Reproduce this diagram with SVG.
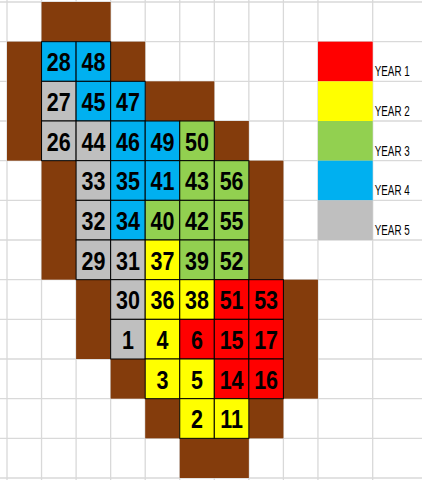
<svg xmlns="http://www.w3.org/2000/svg" width="422" height="480" viewBox="0 0 422 480">
<style>
.grid line{stroke:#d9d9d9;stroke-width:1.3}
.br{fill:#843C0C}
.c rect{stroke:#000;stroke-width:1}
.blue{fill:#00B0F0}.gray{fill:#BFBFBF}.green{fill:#92D050}.yellow{fill:#FFFF00}.red{fill:#FF0000}
.lg{stroke:none}
.n{font-family:"Liberation Sans",Arial,sans-serif;font-weight:bold;font-size:21.5px;text-anchor:middle;fill:#000}
.t{font-family:"Liberation Sans",Arial,sans-serif;font-size:12.5px;fill:#000}
</style>
<rect width="422" height="480" fill="#fff"/>
<g class="grid">
<line x1="7" y1="0" x2="7" y2="480"/><line x1="41.55" y1="0" x2="41.55" y2="480"/><line x1="76.1" y1="0" x2="76.1" y2="480"/><line x1="110.65" y1="0" x2="110.65" y2="480"/><line x1="145.2" y1="0" x2="145.2" y2="480"/><line x1="179.75" y1="0" x2="179.75" y2="480"/><line x1="214.3" y1="0" x2="214.3" y2="480"/><line x1="248.85" y1="0" x2="248.85" y2="480"/><line x1="283.4" y1="0" x2="283.4" y2="480"/><line x1="317.95" y1="0" x2="317.95" y2="480"/><line x1="372.7" y1="0" x2="372.7" y2="480"/>
<line x1="0" y1="2" x2="422" y2="2"/><line x1="0" y1="41.67" x2="422" y2="41.67"/><line x1="0" y1="81.33" x2="422" y2="81.33"/><line x1="0" y1="121" x2="422" y2="121"/><line x1="0" y1="160.67" x2="422" y2="160.67"/><line x1="0" y1="200.33" x2="422" y2="200.33"/><line x1="0" y1="240" x2="422" y2="240"/><line x1="0" y1="279.67" x2="422" y2="279.67"/><line x1="0" y1="319.33" x2="422" y2="319.33"/><line x1="0" y1="359" x2="422" y2="359"/><line x1="0" y1="398.67" x2="422" y2="398.67"/><line x1="0" y1="438.33" x2="422" y2="438.33"/><line x1="0" y1="478" x2="422" y2="478"/>
</g>
<g id="border">
<rect class="br" x="41.55" y="2" width="69.1" height="39.67"/>
<rect class="br" x="7" y="41.67" width="34.55" height="119"/>
<rect class="br" x="110.65" y="41.67" width="34.55" height="39.67"/>
<rect class="br" x="145.2" y="81.33" width="69.1" height="39.67"/>
<rect class="br" x="214.3" y="121" width="34.55" height="39.67"/>
<rect class="br" x="41.55" y="160.67" width="34.55" height="119"/>
<rect class="br" x="248.85" y="160.67" width="34.55" height="119"/>
<rect class="br" x="76.1" y="279.67" width="34.55" height="79.33"/>
<rect class="br" x="283.4" y="279.67" width="34.55" height="119"/>
<rect class="br" x="110.65" y="359" width="34.55" height="39.67"/>
<rect class="br" x="145.2" y="398.67" width="34.55" height="39.67"/>
<rect class="br" x="248.85" y="398.67" width="34.55" height="39.67"/>
<rect class="br" x="179.75" y="438.33" width="69.1" height="39.67"/>
</g>
<g id="cells" class="c">
<g id="n28"><rect class="blue" x="41.55" y="41.67" width="34.55" height="39.67"/><text class="n" transform="translate(58.8 71.2) scale(1 1.18)">28</text></g>
<g id="n48"><rect class="blue" x="76.1" y="41.67" width="34.55" height="39.67"/><text class="n" transform="translate(93.4 71.2) scale(1 1.18)">48</text></g>
<g id="n27"><rect class="gray" x="41.55" y="81.33" width="34.55" height="39.67"/><text class="n" transform="translate(58.8 110.8) scale(1 1.18)">27</text></g>
<g id="n45"><rect class="blue" x="76.1" y="81.33" width="34.55" height="39.67"/><text class="n" transform="translate(93.4 110.8) scale(1 1.18)">45</text></g>
<g id="n47"><rect class="blue" x="110.65" y="81.33" width="34.55" height="39.67"/><text class="n" transform="translate(127.9 110.8) scale(1 1.18)">47</text></g>
<g id="n26"><rect class="gray" x="41.55" y="121" width="34.55" height="39.67"/><text class="n" transform="translate(58.8 150.5) scale(1 1.18)">26</text></g>
<g id="n44"><rect class="gray" x="76.1" y="121" width="34.55" height="39.67"/><text class="n" transform="translate(93.4 150.5) scale(1 1.18)">44</text></g>
<g id="n46"><rect class="blue" x="110.65" y="121" width="34.55" height="39.67"/><text class="n" transform="translate(127.9 150.5) scale(1 1.18)">46</text></g>
<g id="n49"><rect class="blue" x="145.2" y="121" width="34.55" height="39.67"/><text class="n" transform="translate(162.5 150.5) scale(1 1.18)">49</text></g>
<g id="n50"><rect class="green" x="179.75" y="121" width="34.55" height="39.67"/><text class="n" transform="translate(197 150.5) scale(1 1.18)">50</text></g>
<g id="n33"><rect class="gray" x="76.1" y="160.67" width="34.55" height="39.67"/><text class="n" transform="translate(93.4 190.2) scale(1 1.18)">33</text></g>
<g id="n35"><rect class="blue" x="110.65" y="160.67" width="34.55" height="39.67"/><text class="n" transform="translate(127.9 190.2) scale(1 1.18)">35</text></g>
<g id="n41"><rect class="blue" x="145.2" y="160.67" width="34.55" height="39.67"/><text class="n" transform="translate(162.5 190.2) scale(1 1.18)">41</text></g>
<g id="n43"><rect class="green" x="179.75" y="160.67" width="34.55" height="39.67"/><text class="n" transform="translate(197 190.2) scale(1 1.18)">43</text></g>
<g id="n56"><rect class="green" x="214.3" y="160.67" width="34.55" height="39.67"/><text class="n" transform="translate(231.6 190.2) scale(1 1.18)">56</text></g>
<g id="n32"><rect class="gray" x="76.1" y="200.33" width="34.55" height="39.67"/><text class="n" transform="translate(93.4 229.8) scale(1 1.18)">32</text></g>
<g id="n34"><rect class="blue" x="110.65" y="200.33" width="34.55" height="39.67"/><text class="n" transform="translate(127.9 229.8) scale(1 1.18)">34</text></g>
<g id="n40"><rect class="green" x="145.2" y="200.33" width="34.55" height="39.67"/><text class="n" transform="translate(162.5 229.8) scale(1 1.18)">40</text></g>
<g id="n42"><rect class="green" x="179.75" y="200.33" width="34.55" height="39.67"/><text class="n" transform="translate(197 229.8) scale(1 1.18)">42</text></g>
<g id="n55"><rect class="green" x="214.3" y="200.33" width="34.55" height="39.67"/><text class="n" transform="translate(231.6 229.8) scale(1 1.18)">55</text></g>
<g id="n29"><rect class="gray" x="76.1" y="240" width="34.55" height="39.67"/><text class="n" transform="translate(93.4 269.5) scale(1 1.18)">29</text></g>
<g id="n31"><rect class="gray" x="110.65" y="240" width="34.55" height="39.67"/><text class="n" transform="translate(127.9 269.5) scale(1 1.18)">31</text></g>
<g id="n37"><rect class="yellow" x="145.2" y="240" width="34.55" height="39.67"/><text class="n" transform="translate(162.5 269.5) scale(1 1.18)">37</text></g>
<g id="n39"><rect class="green" x="179.75" y="240" width="34.55" height="39.67"/><text class="n" transform="translate(197 269.5) scale(1 1.18)">39</text></g>
<g id="n52"><rect class="green" x="214.3" y="240" width="34.55" height="39.67"/><text class="n" transform="translate(231.6 269.5) scale(1 1.18)">52</text></g>
<g id="n30"><rect class="gray" x="110.65" y="279.67" width="34.55" height="39.67"/><text class="n" transform="translate(127.9 309.2) scale(1 1.18)">30</text></g>
<g id="n36"><rect class="yellow" x="145.2" y="279.67" width="34.55" height="39.67"/><text class="n" transform="translate(162.5 309.2) scale(1 1.18)">36</text></g>
<g id="n38"><rect class="yellow" x="179.75" y="279.67" width="34.55" height="39.67"/><text class="n" transform="translate(197 309.2) scale(1 1.18)">38</text></g>
<g id="n51"><rect class="red" x="214.3" y="279.67" width="34.55" height="39.67"/><text class="n" transform="translate(231.6 309.2) scale(1 1.18)">51</text></g>
<g id="n53"><rect class="red" x="248.85" y="279.67" width="34.55" height="39.67"/><text class="n" transform="translate(266.1 309.2) scale(1 1.18)">53</text></g>
<g id="n1"><rect class="gray" x="110.65" y="319.33" width="34.55" height="39.67"/><text class="n" transform="translate(127.9 348.8) scale(1 1.18)">1</text></g>
<g id="n4"><rect class="yellow" x="145.2" y="319.33" width="34.55" height="39.67"/><text class="n" transform="translate(162.5 348.8) scale(1 1.18)">4</text></g>
<g id="n6"><rect class="red" x="179.75" y="319.33" width="34.55" height="39.67"/><text class="n" transform="translate(197 348.8) scale(1 1.18)">6</text></g>
<g id="n15"><rect class="red" x="214.3" y="319.33" width="34.55" height="39.67"/><text class="n" transform="translate(231.6 348.8) scale(1 1.18)">15</text></g>
<g id="n17"><rect class="red" x="248.85" y="319.33" width="34.55" height="39.67"/><text class="n" transform="translate(266.1 348.8) scale(1 1.18)">17</text></g>
<g id="n3"><rect class="yellow" x="145.2" y="359" width="34.55" height="39.67"/><text class="n" transform="translate(162.5 388.5) scale(1 1.18)">3</text></g>
<g id="n5"><rect class="yellow" x="179.75" y="359" width="34.55" height="39.67"/><text class="n" transform="translate(197 388.5) scale(1 1.18)">5</text></g>
<g id="n14"><rect class="red" x="214.3" y="359" width="34.55" height="39.67"/><text class="n" transform="translate(231.6 388.5) scale(1 1.18)">14</text></g>
<g id="n16"><rect class="red" x="248.85" y="359" width="34.55" height="39.67"/><text class="n" transform="translate(266.1 388.5) scale(1 1.18)">16</text></g>
<g id="n2"><rect class="yellow" x="179.75" y="398.67" width="34.55" height="39.67"/><text class="n" transform="translate(197 428.2) scale(1 1.18)">2</text></g>
<g id="n11"><rect class="yellow" x="214.3" y="398.67" width="34.55" height="39.67"/><text class="n" transform="translate(231.6 428.2) scale(1 1.18)">11</text></g>
</g>
<g id="legend">
<g id="year1"><rect class="red" x="317.95" y="41.67" width="54.75" height="39.67"/><text class="t" transform="translate(374.7 76.3) scale(1 1.2)" textLength="35" lengthAdjust="spacingAndGlyphs">YEAR 1</text></g>
<g id="year2"><rect class="yellow" x="317.95" y="81.33" width="54.75" height="39.67"/><text class="t" transform="translate(374.7 116) scale(1 1.2)" textLength="35" lengthAdjust="spacingAndGlyphs">YEAR 2</text></g>
<g id="year3"><rect class="green" x="317.95" y="121" width="54.75" height="39.67"/><text class="t" transform="translate(374.7 155.6) scale(1 1.2)" textLength="35" lengthAdjust="spacingAndGlyphs">YEAR 3</text></g>
<g id="year4"><rect class="blue" x="317.95" y="160.67" width="54.75" height="39.67"/><text class="t" transform="translate(374.7 195.3) scale(1 1.2)" textLength="35" lengthAdjust="spacingAndGlyphs">YEAR 4</text></g>
<g id="year5"><rect class="gray" x="317.95" y="200.33" width="54.75" height="39.67"/><text class="t" transform="translate(374.7 235) scale(1 1.2)" textLength="35" lengthAdjust="spacingAndGlyphs">YEAR 5</text></g>
</g>
</svg>
